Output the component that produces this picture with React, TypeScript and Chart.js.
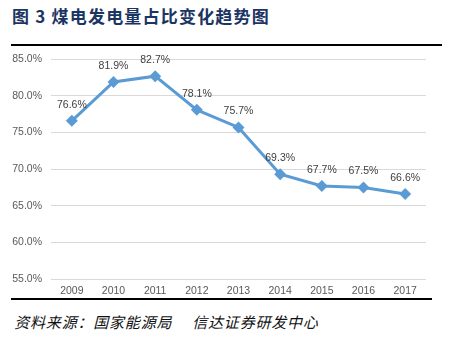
import React, { useEffect, useRef } from "react";
import { Chart, registerables } from "chart.js";

Chart.register(...registerables);

const years = ["2009", "2010", "2011", "2012", "2013", "2014", "2015", "2016", "2017"];
const coalShare = [76.6, 81.9, 82.7, 78.1, 75.7, 69.3, 67.7, 67.5, 66.6];
const yMin = 55;
const yMax = 85;
const yStep = 5;

const labelPlugin = {
  id: "pointLabels",
  afterDatasetsDraw(chart: any) {
    const ctx = chart.ctx;
    const meta = chart.getDatasetMeta(0);
    ctx.save();
    ctx.font = "10.5px 'Liberation Sans', Arial, sans-serif";
    ctx.fillStyle = "#404040";
    ctx.textAlign = "center";
    ctx.textBaseline = "middle";
    meta.data.forEach((pt: any, i: number) => {
      ctx.fillText(coalShare[i].toFixed(1) + "%", pt.x, pt.y - 16);
    });
    ctx.restore();
  },
};

export default function App() {
  const ref = useRef<HTMLCanvasElement>(null);
  useEffect(() => {
    if (!ref.current) return;
    const chart = new Chart(ref.current, {
      type: "line",
      data: {
        labels: years,
        datasets: [
          {
            data: coalShare,
            borderColor: "#5b9bd5",
            backgroundColor: "#5b9bd5",
            borderWidth: 3,
            pointStyle: "rectRot",
            pointRadius: 6,
            pointBorderWidth: 0,
            tension: 0,
          },
        ],
      },
      options: {
        animation: false,
        responsive: false,
        maintainAspectRatio: false,
        layout: { padding: { top: 0, right: 27, left: 0, bottom: 0 } },
        plugins: { legend: { display: false }, tooltip: { enabled: false } },
        scales: {
          x: {
            offset: true,
            grid: { display: false, drawTicks: false },
            border: { display: false },
            ticks: {
              color: "#595959",
              font: { size: 10.5, family: "'Liberation Sans', Arial, sans-serif" },
              padding: 6,
            },
            afterFit(scale: any) {
              scale.height = 20;
            },
          },
          y: {
            min: yMin,
            max: yMax,
            grid: { color: "#d9d9d9", drawTicks: false, lineWidth: 1 },
            border: { display: false },
            ticks: {
              stepSize: yStep,
              color: "#595959",
              font: { size: 10.5, family: "'Liberation Sans', Arial, sans-serif" },
              padding: 9,
              callback: (v: any) => Number(v).toFixed(1) + "%",
            },
            afterFit(scale: any) {
              scale.width = 51;
            },
          },
        },
      },
      plugins: [labelPlugin],
    });
    return () => chart.destroy();
  }, []);

  const sourceStyle: React.CSSProperties = {
    position: "absolute",
    top: 311,
    fontFamily: "'Noto Sans CJK SC', sans-serif",
    fontSize: 15,
    letterSpacing: 0.8,
    color: "#111",
    lineHeight: "22px",
    whiteSpace: "nowrap",
    transform: "skewX(-14deg)",
    transformOrigin: "left bottom",
  };

  return (
    <div
      style={{
        position: "absolute",
        left: 0,
        top: 0,
        width: 453,
        height: 340,
        background: "#fff",
        overflow: "hidden",
      }}
    >
      <div
        style={{
          position: "absolute",
          left: 12,
          top: 5,
          fontFamily: "'Noto Sans CJK SC', sans-serif",
          fontWeight: 700,
          fontSize: 17,
          letterSpacing: 1.2,
          color: "#1b3563",
          lineHeight: "22px",
          whiteSpace: "nowrap",
        }}
      >
        图 3 煤电发电量占比变化趋势图
      </div>
      <div style={{ position: "absolute", left: 11, top: 44, width: 431, height: 1.5, background: "#000" }} />
      <canvas
        ref={ref}
        width={453}
        height={255}
        style={{ position: "absolute", left: 0, top: 44, width: 453, height: 255 }}
      />
      <div style={{ position: "absolute", left: 11, top: 298, width: 421, height: 1.5, background: "#000" }} />
      <div style={{ ...sourceStyle, left: 13 }}>资料来源：国家能源局</div>
      <div style={{ ...sourceStyle, left: 191 }}>信达证券研发中心</div>
    </div>
  );
}
